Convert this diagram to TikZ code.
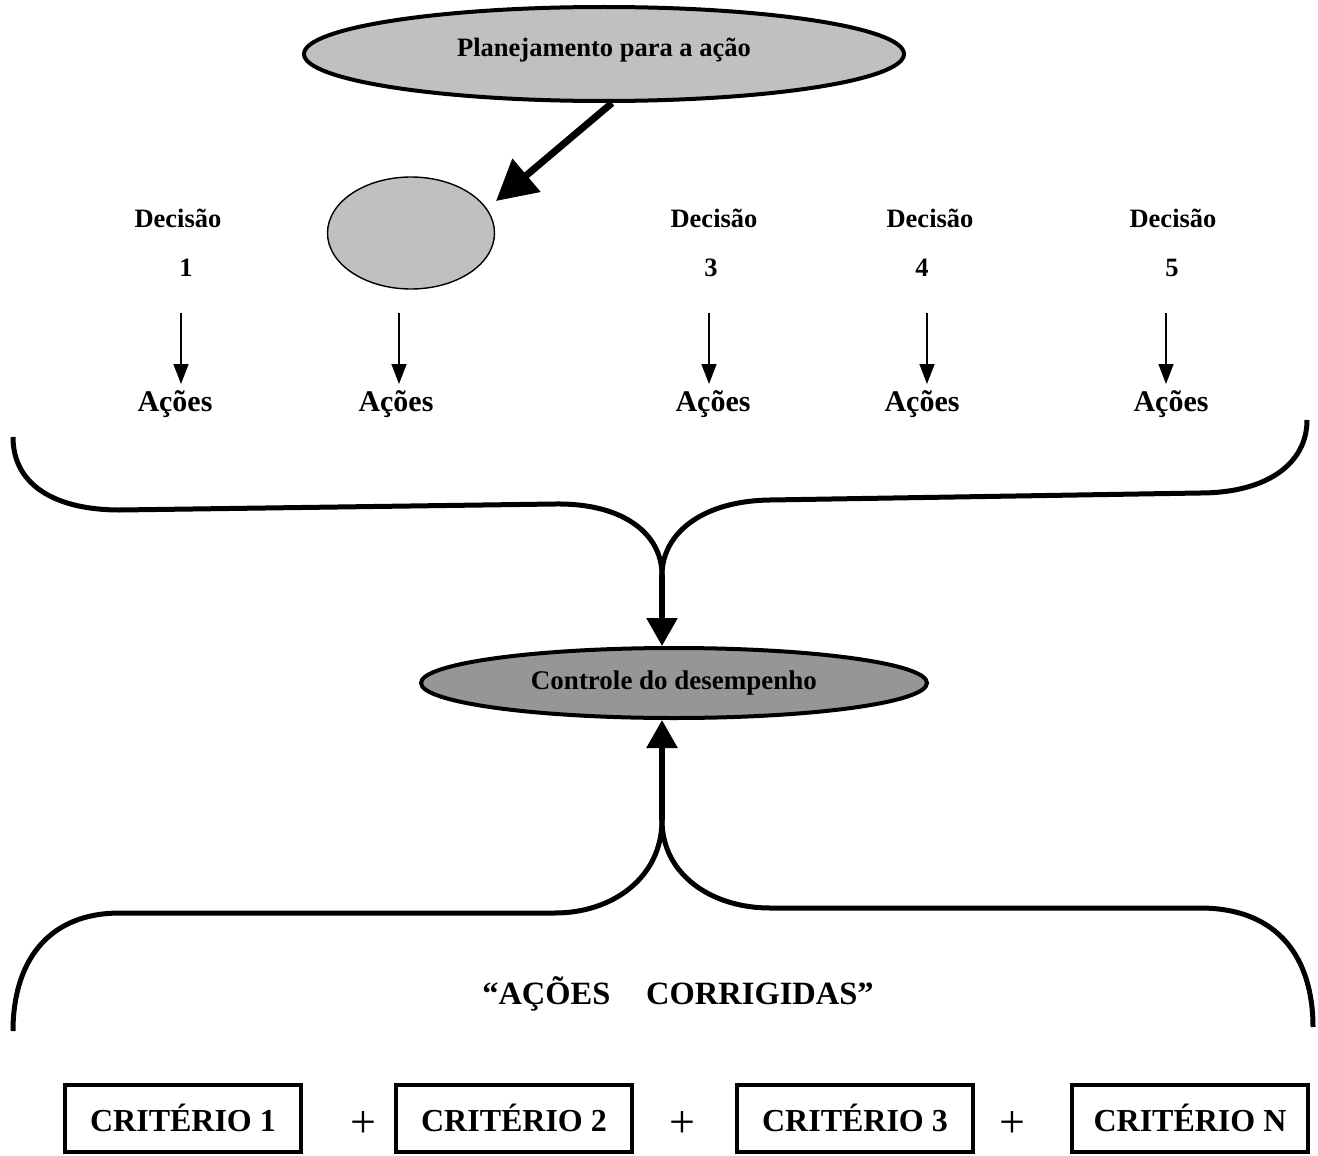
\documentclass[tikz,border=0pt]{standalone}
\usepackage{fontspec}
\setmainfont{Liberation Serif}
\usetikzlibrary{arrows.meta,shapes.geometric}

\tikzset{
  lbl/.style={font=\fontsize{26.5}{28}\selectfont\bfseries, inner sep=0pt},
  actlbl/.style={font=\fontsize{30}{32}\selectfont\bfseries, inner sep=0pt},
  bigell/.style={ellipse, draw=black, line width=4pt, inner sep=0pt},
  thinarrow/.style={line width=1.6pt, -{Triangle[length=20pt,width=15pt]}},
  brace/.style={line width=5pt, line join=round},
  bracearrow/.style={line width=5.5pt, -{Triangle[length=28pt,width=30pt]}},
  critbox/.style={draw=black, line width=4pt, minimum width=236pt, minimum height=67pt,
    inner sep=0pt, font=\fontsize{32}{34}\selectfont\bfseries},
  plus/.style={font=\fontsize{46}{48}\selectfont, inner sep=0pt}
}

\begin{document}
\begin{tikzpicture}[x=1pt, y=-1pt]
\useasboundingbox (0,0) rectangle (1318,1156);

% planning ellipse and the unlabelled decision
\node[bigell, fill={rgb,255:red,192;green,192;blue,192}, minimum width=600pt, minimum height=94pt] (plan) at (604,54) {};
\node[lbl] (plantext) at (604,50) {Planejamento para a ação};
\node[ellipse, draw=black, line width=1.4pt, fill={rgb,255:red,192;green,192;blue,192}, minimum width=167pt, minimum height=112pt] (d2) at (411,233) {};

\coordinate (planout) at (612,103);
\coordinate (d2in) at (496,201);
\draw[line width=7pt, -{Triangle[length=40pt,width=42pt]}] (planout) -- (d2in);

% decisions
\node[lbl] (dec1) at (178,218) {Decisão};
\node[lbl] (n1) at (186,268) {1};
\node[lbl] (dec3) at (714,218) {Decisão};
\node[lbl] (n3) at (711,268) {3};
\node[lbl] (dec4) at (930,218) {Decisão};
\node[lbl] (n4) at (922,268) {4};
\node[lbl] (dec5) at (1173,218) {Decisão};
\node[lbl] (n5) at (1172,268) {5};

% actions
\node[actlbl] (act1) at (175,404) {Ações};
\node[actlbl] (act2) at (396,404) {Ações};
\node[actlbl] (act3) at (713,404) {Ações};
\node[actlbl] (act4) at (922,404) {Ações};
\node[actlbl] (act5) at (1171,404) {Ações};

\coordinate (s1) at (181,313);
\coordinate (s2) at (399,313);
\coordinate (s3) at (709,313);
\coordinate (s4) at (927,313);
\coordinate (s5) at (1166,313);
\coordinate (e1) at (181,384);
\coordinate (e2) at (399,384);
\coordinate (e3) at (709,384);
\coordinate (e4) at (927,384);
\coordinate (e5) at (1166,384);
\foreach \i in {1,...,5} \draw[thinarrow] (s\i) -- (e\i);

% performance control
\node[bigell, fill={rgb,255:red,150;green,150;blue,150}, minimum width=506pt, minimum height=70pt] (ctrl) at (674,683) {};
\node[lbl, font=\fontsize{27}{29}\selectfont\bfseries] (ctrltext) at (674,683) {Controle do desempenho};

% upper brace gathering the actions
\coordinate (ul) at (13,437);
\coordinate (ur) at (1307,420);
\coordinate (uj) at (662,575);
\draw[brace] (ul) .. controls (13,485) and (55,510) .. (120,510) -- (555,504)
  .. controls (625,503) and (662,535) .. (uj);
\draw[brace] (ur) .. controls (1307,465) and (1265,493) .. (1200,493) -- (770,500)
  .. controls (700,501) and (662,535) .. (uj);
\draw[bracearrow] (uj) -- (uj |- ctrl.north);

% lower brace feeding back the corrected actions
\coordinate (lj) at (662,820);
\coordinate (ll) at (13,1031);
\coordinate (lr) at (1313,1027);
\draw[bracearrow] (lj) -- (lj |- ctrl.south);
\draw[brace] (lj) .. controls (662,878) and (612,913) .. (555,913) -- (120,913)
  .. controls (45,913) and (13,965) .. (ll);
\draw[brace] (lj) .. controls (662,875) and (712,908) .. (770,908) -- (1200,908)
  .. controls (1280,908) and (1313,960) .. (lr);

\node[font=\fontsize{32.5}{34}\selectfont\bfseries, inner sep=0pt] (corr) at (678,994) {“AÇÕES\hspace{1.1em}CORRIGIDAS”};

% criteria
\node[critbox] (c1) at (183,1118) {CRITÉRIO 1};
\node[critbox] (c2) at (514,1118) {CRITÉRIO 2};
\node[critbox] (c3) at (855,1118) {CRITÉRIO 3};
\node[critbox] (cn) at (1190,1118) {CRITÉRIO N};
\node[plus] (p1) at (363,1124) {+};
\node[plus] (p2) at (682,1124) {+};
\node[plus] (p3) at (1012,1124) {+};
\end{tikzpicture}
\end{document}
